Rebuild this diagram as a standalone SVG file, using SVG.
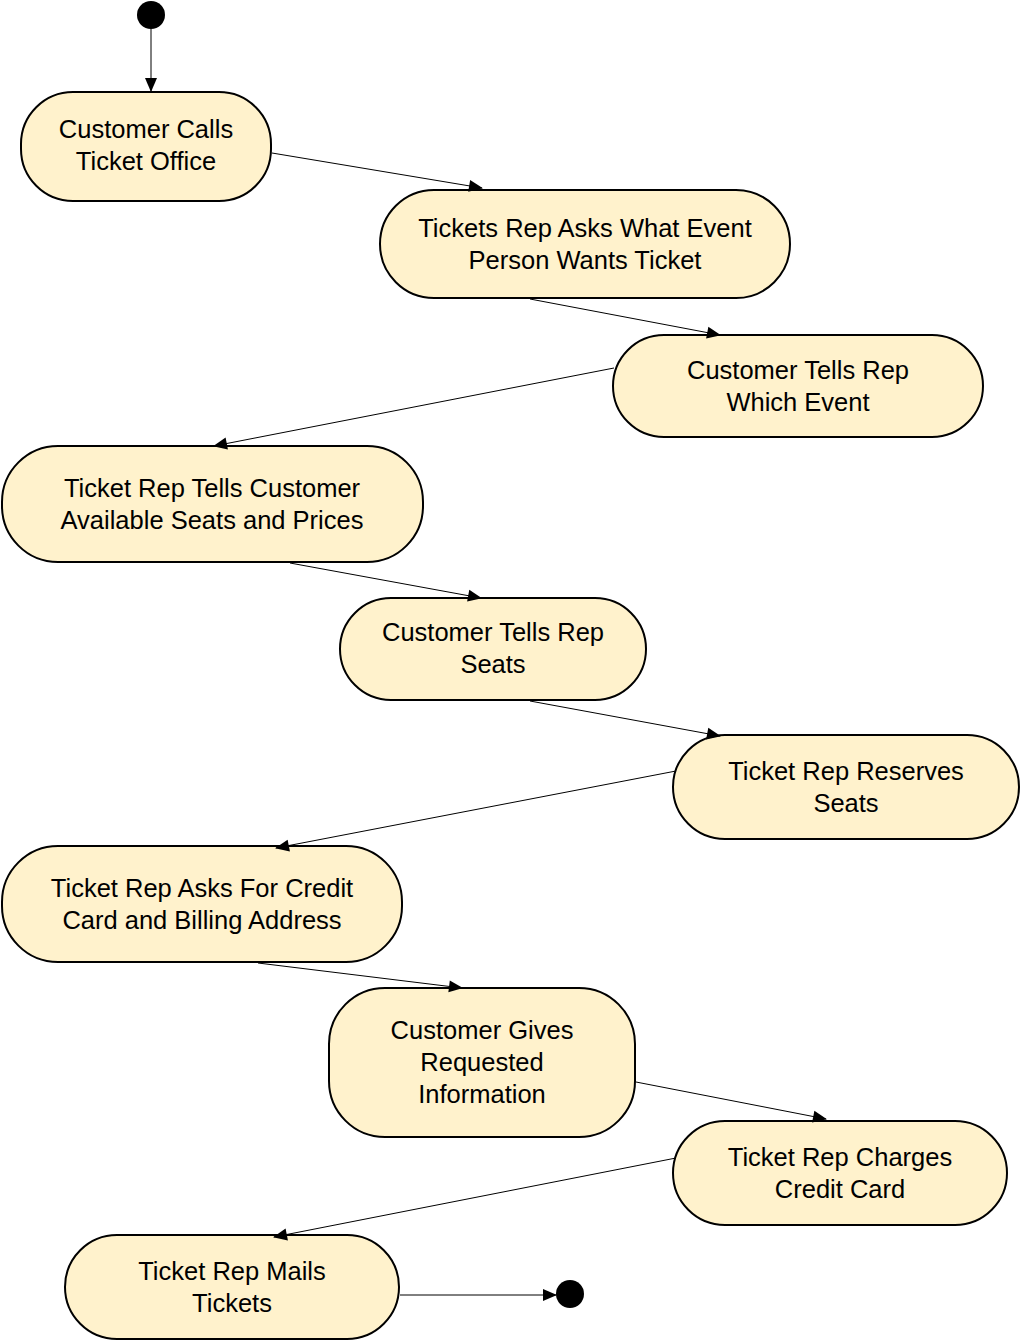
<svg xmlns="http://www.w3.org/2000/svg" width="1020" height="1341" viewBox="0 0 1020 1341">
<style>
.n{fill:#fff2cc;stroke:#000;stroke-width:2}
.t{font-family:"Liberation Sans",Arial,sans-serif;font-size:25.5px;fill:#000;text-anchor:middle}
.e{stroke:#000;stroke-width:1;fill:none;marker-end:url(#a)}
</style>
<defs>
<marker id="a" markerWidth="14" markerHeight="12" refX="13" refY="6" orient="auto" markerUnits="userSpaceOnUse" overflow="visible">
<path d="M0,0 L14,6 L0,12 Z" fill="#000"/>
</marker>
</defs>
<g id="start"><circle cx="151" cy="15" r="14" fill="#000"/></g>
<g id="end"><circle cx="570" cy="1294" r="14" fill="#000"/></g>
<g id="n1"><rect class="n" x="21" y="92" width="250" height="109" rx="52"/>
<text class="t" x="146" y="138">Customer Calls</text><text class="t" x="146" y="170">Ticket Office</text></g>
<g id="n2"><rect class="n" x="380" y="190" width="410" height="108" rx="54"/>
<text class="t" x="585" y="237">Tickets Rep Asks What Event</text><text class="t" x="585" y="269">Person Wants Ticket</text></g>
<g id="n3"><rect class="n" x="613" y="335" width="370" height="102" rx="51"/>
<text class="t" x="798" y="379">Customer Tells Rep</text><text class="t" x="798" y="411">Which Event</text></g>
<g id="n4"><rect class="n" x="2" y="446" width="421" height="116" rx="56"/>
<text class="t" x="212" y="497">Ticket Rep Tells Customer</text><text class="t" x="212" y="529">Available Seats and Prices</text></g>
<g id="n5"><rect class="n" x="340" y="598" width="306" height="102" rx="51"/>
<text class="t" x="493" y="641">Customer Tells Rep</text><text class="t" x="493" y="673">Seats</text></g>
<g id="n6"><rect class="n" x="673" y="735" width="346" height="104" rx="52"/>
<text class="t" x="846" y="780">Ticket Rep Reserves</text><text class="t" x="846" y="812">Seats</text></g>
<g id="n7"><rect class="n" x="2" y="846" width="400" height="116" rx="56"/>
<text class="t" x="202" y="897">Ticket Rep Asks For Credit</text><text class="t" x="202" y="929">Card and Billing Address</text></g>
<g id="n8"><rect class="n" x="329" y="988" width="306" height="149" rx="56"/>
<text class="t" x="482" y="1039">Customer Gives</text><text class="t" x="482" y="1071">Requested</text><text class="t" x="482" y="1103">Information</text></g>
<g id="n9"><rect class="n" x="673" y="1121" width="334" height="104" rx="52"/>
<text class="t" x="840" y="1166">Ticket Rep Charges</text><text class="t" x="840" y="1198">Credit Card</text></g>
<g id="n10"><rect class="n" x="65" y="1235" width="334" height="104" rx="52"/>
<text class="t" x="232" y="1280">Ticket Rep Mails</text><text class="t" x="232" y="1312">Tickets</text></g>
<g id="edges">
<line class="e" x1="151" y1="29" x2="151" y2="91"/>
<line class="e" x1="272" y1="153" x2="482" y2="188"/>
<line class="e" x1="530" y1="299" x2="720" y2="335"/>
<line class="e" x1="614" y1="368" x2="214" y2="446"/>
<line class="e" x1="290" y1="563" x2="481" y2="598"/>
<line class="e" x1="530" y1="701" x2="720" y2="736"/>
<line class="e" x1="676" y1="771" x2="276" y2="848"/>
<line class="e" x1="258" y1="963" x2="462" y2="988"/>
<line class="e" x1="636" y1="1082" x2="826" y2="1119"/>
<line class="e" x1="676" y1="1158" x2="274" y2="1237"/>
<line class="e" x1="400" y1="1295" x2="556" y2="1295"/>
</g>
</svg>
